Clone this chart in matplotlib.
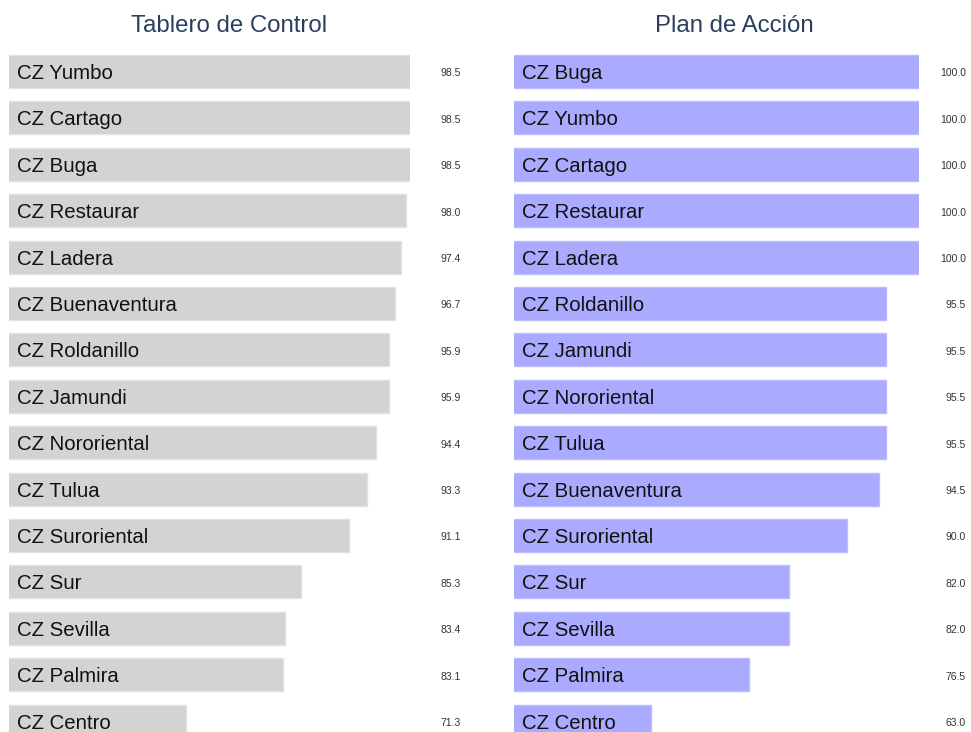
import matplotlib.pyplot as plt

plt.rcParams['font.family'] = ['Liberation Sans', 'DejaVu Sans']

control_names = ['CZ Yumbo', 'CZ Cartago', 'CZ Buga', 'CZ Restaurar', 'CZ Ladera',
                 'CZ Buenaventura', 'CZ Roldanillo', 'CZ Jamundi', 'CZ Nororiental',
                 'CZ Tulua', 'CZ Suroriental', 'CZ Sur', 'CZ Sevilla', 'CZ Palmira',
                 'CZ Centro']
control_values = [98.5, 98.5, 98.5, 98.0, 97.4, 96.7, 95.9, 95.9, 94.4, 93.3,
                  91.1, 85.3, 83.4, 83.1, 71.3]

plan_names = ['CZ Buga', 'CZ Yumbo', 'CZ Cartago', 'CZ Restaurar', 'CZ Ladera',
              'CZ Roldanillo', 'CZ Jamundi', 'CZ Nororiental', 'CZ Tulua',
              'CZ Buenaventura', 'CZ Suroriental', 'CZ Sur', 'CZ Sevilla',
              'CZ Palmira', 'CZ Centro']
plan_values = [100.0, 100.0, 100.0, 100.0, 100.0, 95.5, 95.5, 95.5, 95.5, 94.5,
               90.0, 82.0, 82.0, 76.5, 63.0]

W, H = 971, 732
fig = plt.figure(figsize=(W / 100, H / 100), dpi=100)


def draw_panel(x0, width, names, values, title, color, edge, label_x, title_x):
    ax = fig.add_axes([x0 / W, 0, width / W, (H - 48) / H])
    pos = list(range(len(names)))
    ax.barh(pos, values, height=0.71, color=color, edgecolor=edge, linewidth=1)
    ax.set_xlim(0.7 * min(values), max(values))
    ax.set_ylim(14.235, -0.506)
    ax.axis('off')
    tr = ax.get_yaxis_transform()
    for i, (n, v) in enumerate(zip(names, values)):
        # nombre dentro de la barra, un poco más abajo del centro
        ax.text(0.02, i + 0.045, n, transform=tr, ha='left', va='center',
                fontsize=14.7, color='#111111')
        ax.text(label_x, i + 0.04, f'{v:.1f}', transform=tr, ha='right',
                va='center', fontsize=7.5, color='#333333', clip_on=False)
    fig.text(title_x / W, 1 - 26 / H, title, ha='center', va='center',
             fontsize=17.3, color='#2a3f5f')


draw_panel(9, 401, control_names, control_values, 'Tablero de Control',
           '#d3d3d3', '#e2e2e2', (461 - 9) / 401, 229.5)
draw_panel(514, 405, plan_names, plan_values, 'Plan de Acción',
           '#aaaaff', '#bcbcff', (966 - 514) / 405, 734)

fig.savefig('out.png', dpi=100)
